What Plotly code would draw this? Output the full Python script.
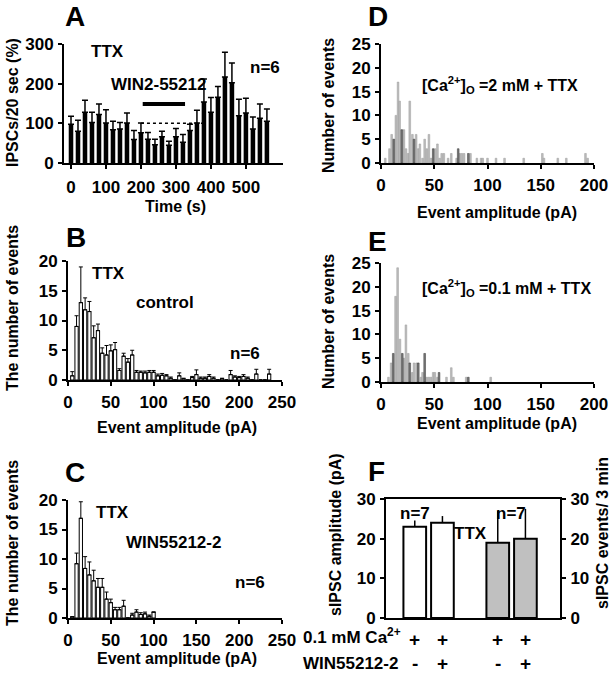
import plotly.graph_objects as go

W, H = 611, 678

# ---------------- data ----------------
# Panel A: IPSC frequency (% of baseline) per 20 s bin
A_time = list(range(0, 561, 20))
A_pct = [98, 80, 128, 102, 122, 101, 84, 86, 101, 59, 76, 60, 46, 66, 45, 66, 52, 82, 101,
         154, 128, 166, 217, 202, 119, 126, 86, 113, 105]
A_err = [20, 28, 30, 26, 27, 33, 21, 16, 25, 23, 25, 17, 14, 14, 10, 21, 20, 16, 32,
         58, 37, 27, 62, 50, 42, 37, 30, 36, 31]
A_win_start, A_win_end, A_win_level = 205, 326, 149
A_base_level, A_base_start, A_base_end = 100, 200, 380
A_xticks = [0, 100, 200, 300, 400, 500]
A_yticks = [0, 100, 200, 300]

# Panel B: amplitude histogram, control
B_amp = list(range(5, 240, 5))
B_cnt = [0.7, 9.0, 13.0, 11.8, 11.5, 7.1, 8.3, 4.5, 4.2, 4.9,
         5.1, 1.6, 4.0, 3.0, 4.2, 1.3, 1.3, 1.2, 1.3, 1.3,
         0.7, 0.8, 0.7, 0.3, 0, 0.7, 0.2, 0, 0.4, 0.9,
         0.3, 0.3, 0.6, 0.3, 0, 0.2, 0, 0.9, 0.5, 0.4,
         0.6, 0.3, 0, 1.0, 0, 0, 1.0]
B_err = [0.7, 1.8, 6.0, 2.0, 1.7, 2.0, 1.1, 0.9, 1.6, 1.0,
         1.2, 0.3, 0.5, 0.6, 0.8, 0.3, 0.2, 0.3, 0.3, 0.3,
         0.3, 0.3, 0.2, 0.2, 0, 0.5, 0.1, 0, 0.2, 0.8,
         0.2, 0.2, 0.3, 0.2, 0, 0.1, 0, 0.7, 0.2, 0.2,
         0.3, 0.2, 0, 0.8, 0, 0, 0.8]

# Panel C: amplitude histogram, WIN55212-2
C_amp = list(range(5, 105, 5))
C_cnt = [0.2, 9.2, 16.9, 8.4, 7.3, 6.3, 5.2, 5.2, 3.2, 2.6, 1.4, 1.4, 2.0, 0, 0.5, 1.0, 0.6, 0.7, 0.3, 1.0]
C_err = [0, 1.8, 2.8, 2.0, 2.2, 1.8, 1.5, 1.5, 1.2, 0.6, 0.4, 0.4, 1.0, 0, 0.3, 0.4, 0.3, 0.3, 0.2, 0]

AMP_TICKS_BC = [0, 50, 100, 150, 200, 250]
CNT_TICKS_BC = [0, 5, 10, 15, 20]

# Panel D: 2 mM Ca histogram (two interleaved series)
D_light_amp = [4, 8, 10, 14, 16, 17.5, 21.5, 23.5, 25.5, 27, 29.5, 33, 35, 36.5, 39, 41, 43, 45, 47,
               51, 53, 55, 57, 59, 63, 66, 71, 74, 76, 78, 84, 90, 94, 95.5, 100, 108, 116, 134,
               151.5, 153, 166, 174, 192, 194]
D_light_cnt = [1, 3, 6, 10, 17, 13, 7, 3, 2, 13, 6, 6, 3, 4, 1, 5, 3, 6, 1,
               3, 4, 1, 2, 2, 1, 2, 1, 2, 2, 2, 2, 1, 1, 1, 1, 1, 1, 1,
               2, 1, 1, 1, 2, 1]
D_dark_amp = [12, 19.5, 31, 49, 72.5, 82]
D_dark_cnt = [5, 7, 5, 3, 3, 2]

# Panel E: 0.1 mM Ca histogram
E_light_amp = [7, 9.5, 13.7, 15.6, 17.8, 21.5, 23.4, 25.6, 29.4, 31, 33.4, 37.5, 39, 43, 45, 47,
               49, 50.6, 53, 61.5, 66, 68, 80, 103]
E_light_cnt = [1, 4, 18, 24, 9, 5, 12, 6, 2, 4, 4, 1, 2, 1, 1, 1,
               2, 2, 1, 1, 3, 1, 1, 1]
E_dark_amp = [11.5, 20, 27, 35, 41, 54.5, 82]
E_dark_cnt = [6, 6, 4, 4, 6, 2, 1]

AMP_TICKS_DE = [0, 50, 100, 150, 200]
CNT_TICKS_DE = [0, 5, 10, 15, 20, 25]

# Panel F: summary
F_pos_amp = [1, 2]
F_amp = [23, 24]
F_amp_err = [1.6, 1.7]
F_pos_evt = [4, 5]
F_evt = [19, 20]
F_evt_err = [8.0, 7.5]
F_ticks = [0, 10, 20, 30]
F_pos_all = [1, 2, 4, 5]
F_ca_row = ["+", "+", "+", "+"]
F_win_row = ["-", "+", "-", "+"]

FONT = "Liberation Sans, Arial, sans-serif"
FS = 17      # tick labels / short labels
TS = 16      # axis titles


def px(x):
    return x / W


def py(y):
    return 1 - y / H


fig = go.Figure()

# ---- A ----
fig.add_trace(go.Bar(x=A_time, y=A_pct, width=13, marker=dict(color="black", line=dict(width=0)),
                     error_y=dict(type="data", array=A_err, arrayminus=[0] * len(A_err), symmetric=False,
                                  color="black", thickness=1.5, width=3),
                     xaxis="x", yaxis="y", showlegend=False))

# ---- B ----
fig.add_trace(go.Bar(x=B_amp, y=B_cnt, width=3.8, marker=dict(color="white", line=dict(color="black", width=1)),
                     error_y=dict(type="data", array=B_err, arrayminus=[0] * len(B_err), symmetric=False,
                                  color="black", thickness=1, width=2),
                     xaxis="x2", yaxis="y2", showlegend=False))

# ---- C ----
fig.add_trace(go.Bar(x=C_amp, y=C_cnt, width=3.8, marker=dict(color="white", line=dict(color="black", width=1)),
                     error_y=dict(type="data", array=C_err, arrayminus=[0] * len(C_err), symmetric=False,
                                  color="black", thickness=1, width=2),
                     xaxis="x3", yaxis="y3", showlegend=False))

# ---- D ----
fig.add_trace(go.Bar(x=D_light_amp, y=D_light_cnt, width=1.6,
                     marker=dict(color="#bdbdbd", line=dict(color="#9a9a9a", width=0.5)),
                     xaxis="x4", yaxis="y4", showlegend=False))
fig.add_trace(go.Bar(x=D_dark_amp, y=D_dark_cnt, width=1.6,
                     marker=dict(color="#7a7a7a", line=dict(color="#333333", width=0.5)),
                     xaxis="x4", yaxis="y4", showlegend=False))

# ---- E ----
fig.add_trace(go.Bar(x=E_light_amp, y=E_light_cnt, width=1.6,
                     marker=dict(color="#bdbdbd", line=dict(color="#9a9a9a", width=0.5)),
                     xaxis="x5", yaxis="y5", showlegend=False))
fig.add_trace(go.Bar(x=E_dark_amp, y=E_dark_cnt, width=1.6,
                     marker=dict(color="#7a7a7a", line=dict(color="#333333", width=0.5)),
                     xaxis="x5", yaxis="y5", showlegend=False))

# ---- F ----
fig.add_trace(go.Bar(x=F_pos_amp, y=F_amp, width=0.82, marker=dict(color="white", line=dict(color="black", width=2)),
                     error_y=dict(type="data", array=F_amp_err, arrayminus=[0, 0], symmetric=False,
                                  color="black", thickness=1.5, width=0),
                     xaxis="x6", yaxis="y6", showlegend=False))
fig.add_trace(go.Bar(x=F_pos_evt, y=F_evt, width=0.82, marker=dict(color="#c0c0c0", line=dict(color="black", width=2)),
                     error_y=dict(type="data", array=F_evt_err, arrayminus=[0, 0], symmetric=False,
                                  color="black", thickness=1.5, width=0),
                     xaxis="x6", yaxis="y7", showlegend=False))

axis_common = dict(showline=True, linecolor="black", linewidth=2, ticks="outside", ticklen=4,
                   tickwidth=2, tickcolor="black", showgrid=False, zeroline=False, automargin=False,
                   tickfont=dict(family=FONT, size=FS, color="black", weight="bold"))
XSO = 2
YSO = 1

layout = dict(
    template="none",
    width=W, height=H, margin=dict(l=0, r=0, t=0, b=0, pad=0),
    paper_bgcolor="white", plot_bgcolor="rgba(0,0,0,0)",
    font=dict(family=FONT, size=FS, color="black", weight="bold"),
    barmode="overlay", showlegend=False,
    xaxis=dict(domain=[px(64), px(283)], range=[-20, 606], anchor="y", tickvals=A_xticks,
               ticklabelstandoff=XSO + 2, **axis_common),
    yaxis=dict(domain=[py(163), py(44)], range=[0, 300], anchor="x", tickvals=A_yticks,
               ticklabelstandoff=YSO, **axis_common),
    xaxis2=dict(domain=[px(68), px(282)], range=[0, 250], anchor="y2", tickvals=AMP_TICKS_BC,
                ticklabelstandoff=XSO, **axis_common),
    yaxis2=dict(domain=[py(380), py(261)], range=[0, 20], anchor="x2", tickvals=CNT_TICKS_BC,
                ticklabelstandoff=YSO, **axis_common),
    xaxis3=dict(domain=[px(68), px(282)], range=[0, 250], anchor="y3", tickvals=AMP_TICKS_BC,
                ticklabelstandoff=XSO, **axis_common),
    yaxis3=dict(domain=[py(618), py(500)], range=[0, 20], anchor="x3", tickvals=CNT_TICKS_BC,
                ticklabelstandoff=YSO, **axis_common),
    xaxis4=dict(domain=[px(381), px(594)], range=[0, 200], anchor="y4", tickvals=AMP_TICKS_DE,
                ticklabelstandoff=XSO, **axis_common),
    yaxis4=dict(domain=[py(163), py(44)], range=[0, 25], anchor="x4", tickvals=CNT_TICKS_DE,
                ticklabelstandoff=YSO, **axis_common),
    xaxis5=dict(domain=[px(381), px(594)], range=[0, 200], anchor="y5", tickvals=AMP_TICKS_DE,
                ticklabelstandoff=XSO, **axis_common),
    yaxis5=dict(domain=[py(382), py(263)], range=[0, 25], anchor="x5", tickvals=CNT_TICKS_DE,
                ticklabelstandoff=YSO, **axis_common),
    xaxis6=dict(domain=[px(386), px(560)], range=[-0.04, 6.25], anchor="y6", showline=True,
                linecolor="black", linewidth=2, mirror=True, ticks="", showticklabels=False,
                showgrid=False, zeroline=False, automargin=False),
    yaxis6=dict(domain=[py(618), py(499)], range=[0, 30], anchor="x6", tickvals=F_ticks,
                mirror=True, ticklabelstandoff=YSO, **axis_common),
    yaxis7=dict(range=[0, 30], anchor="x6", overlaying="y6", side="right", tickvals=F_ticks,
                ticklabelstandoff=YSO, **axis_common),
)
fig.update_layout(**layout)

# Shapes for panel A
fig.add_shape(type="line", xref="x", yref="y", x0=A_win_start, x1=A_win_end, y0=A_win_level, y1=A_win_level,
              line=dict(color="black", width=4))
fig.add_shape(type="line", xref="x", yref="y", x0=A_base_start, x1=A_base_end, y0=A_base_level, y1=A_base_level,
              line=dict(color="black", width=1.5, dash="dot"))


def ann(text, x, y, size=FS, angle=0, xanchor="center", yanchor="middle", xref="paper", yref="paper"):
    fig.add_annotation(text=text, x=x, y=y, xref=xref, yref=yref, showarrow=False,
                       textangle=angle, xanchor=xanchor, yanchor=yanchor,
                       font=dict(family=FONT, size=size, color="black", weight="bold"))


# Panel letters
for letter, (lx, ly) in {"A": (75, 16), "B": (76, 238), "C": (75, 472),
                         "D": (378, 16), "E": (377, 241), "F": (376, 471)}.items():
    ann(letter, px(lx), py(ly), size=28)

# A
ann("TTX", px(107), py(52))
ann("WIN2-55212", px(158), py(85))
ann("n=6", px(265), py(67))
ann("IPSCs/20 sec (%)", px(13), py(103), size=TS, angle=-90)
ann("Time (s)", px(175), py(207), size=TS)

# B
ann("TTX", px(108), py(273))
ann("control", px(165), py(303))
ann("n=6", px(245), py(353))
ann("The number of events", px(12), py(308), size=TS, angle=-90)
ann("Event amplitude (pA)", px(177), py(427), size=TS)

# C
ann("TTX", px(112), py(512))
ann("WIN55212-2", px(173), py(542))
ann("n=6", px(250), py(582))
ann("The number of events", px(12), py(543), size=TS, angle=-90)
ann("Event amplitude (pA)", px(177), py(658), size=TS)

# D
ann("[Ca<sup>2+</sup>]<sub>O</sub> =2 mM + TTX", px(420), py(85), size=TS, xanchor="left")
ann("Number of events", px(329), py(106), size=TS, angle=-90)
ann("Event amplitude (pA)", px(497), py(213), size=TS)

# E
ann("[Ca<sup>2+</sup>]<sub>O</sub> =0.1 mM + TTX", px(420), py(288), size=TS, xanchor="left")
ann("Number of events", px(329), py(322), size=TS, angle=-90)
ann("Event amplitude (pA)", px(497), py(423), size=TS)

# F
ann("n=7", px(415), py(513))
ann("n=7", px(511), py(513))
ann("TTX", px(470), py(533))
ann("sIPSC amplitude (pA)", px(335), py(535), size=TS, angle=-90)
ann("sIPSC events/ 3 min", px(602), py(533), size=TS, angle=-90)
ann("0.1 mM Ca<sup>2+</sup>", px(301), py(636), xanchor="left")
ann("WIN55212-2", px(301), py(663), xanchor="left")
for xpos, s in zip(F_pos_all, F_ca_row):
    ann(s, xpos, py(639), size=19, xref="x6")
for xpos, s in zip(F_pos_all, F_win_row):
    ann(s, xpos, py(663), size=19, xref="x6")

fig.write_html("out.html", config={"displayModeBar": False},
               post_script="document.body.style.margin='0';document.body.style.overflow='hidden';")
